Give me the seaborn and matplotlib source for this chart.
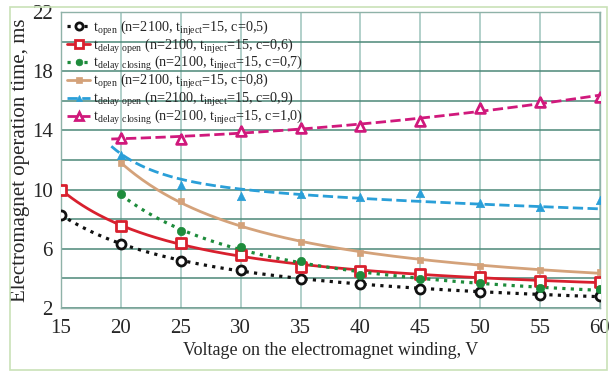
import numpy as np
import pandas as pd
import matplotlib
matplotlib.use("Agg")
import matplotlib.pyplot as plt
import seaborn as sns
from matplotlib.patches import Rectangle

# ---- data ----
voltage = [15, 20, 25, 30, 35, 40, 45, 50, 55, 60]
t_open_05 = [8.30, 6.35, 5.19, 4.57, 3.97, 3.61, 3.30, 3.11, 2.89, 2.80]
t_delay_open_06 = [10.0, 7.54, 6.40, 5.58, 4.79, 4.52, 4.28, 4.12, 3.83, 3.74]
voltage_b = [20, 25, 30, 35, 40, 45, 50, 55, 60]
t_delay_closing_07 = [9.67, 7.19, 6.13, 5.17, 4.23, 3.97, 3.68, 3.38, 3.27]
t_open_08 = [11.77, 9.22, 7.59, 6.47, 5.73, 5.24, 4.86, 4.57, 4.46]
t_delay_open_09 = [12.36, 10.34, 9.60, 9.72, 9.49, 9.79, 9.09, 8.82, 9.32]
t_delay_closing_10 = [13.52, 13.40, 13.97, 14.15, 14.30, 14.62, 15.53, 15.93, 16.25]
# trend line of the c=0,9 series as drawn in the reference
t_delay_open_09_trend = [12.40, 10.80, 9.90, 9.67, 9.45, 9.22, 9.05, 8.85, 8.66]

labels = [
    r"t$_\mathregular{open}$ (n=2100, t$_\mathregular{inject}$=15, c=0,5)",
    r"t$_\mathregular{delay\ open}$ (n=2100, t$_\mathregular{inject}$=15, c=0,6)",
    r"t$_\mathregular{delay\ closing}$ (n=2100, t$_\mathregular{inject}$=15, c=0,7)",
    r"t$_\mathregular{open}$ (n=2100, t$_\mathregular{inject}$=15, c=0,8)",
    r"t$_\mathregular{delay\ open}$ (n=2100, t$_\mathregular{inject}$=15, c=0,9)",
    r"t$_\mathregular{delay\ closing}$ (n=2100, t$_\mathregular{inject}$=15, c=1,0)",
]
xticks = [15, 20, 25, 30, 35, 40, 45, 50, 55, 60]
yticks = [2, 6, 10, 14, 18, 22]

series = [
    (voltage, t_open_05, None, "#111111", ":", "o", "white", 6.5, "inv"),
    (voltage, t_delay_open_06, None, "#d8202e", "-", "s", "white", 6.5, "inv"),
    (voltage_b, t_delay_closing_07, None, "#1e8c3c", ":", "o", None, 6, "inv"),
    (voltage_b, t_open_08, None, "#d4a27a", "-", "s", None, 5, "inv"),
    (voltage_b, t_delay_open_09, t_delay_open_09_trend, "#2a9fd8", "--", "^", None, 6, "inv3"),
    (voltage_b, t_delay_closing_10, None, "#d0197c", "--", "^", "white", 7, "poly"),
]

sns.set_theme(style="white")
plt.rcParams["font.family"] = ["Liberation Serif", "DejaVu Serif"]
plt.rcParams["mathtext.fontset"] = "custom"
plt.rcParams["mathtext.rm"] = "Liberation Serif"

fig = plt.figure(figsize=(6.09, 3.72), dpi=100)
fig.patches.append(Rectangle((10 / 609, 2 / 372), 597 / 609, 363 / 372,
                             transform=fig.transFigure, fill=False,
                             edgecolor="#c9e2b8", lw=1.2))
ax = fig.add_axes([61 / 609, 64 / 372, 539 / 609, 296 / 372])

for i, (vx, vy, trend, col, ls, mk, mfc, ms, kind) in enumerate(series):
    vx = np.asarray(vx, float)
    vy = np.asarray(vy, float)
    fy = np.asarray(trend, float) if trend is not None else vy
    start = vx[0] - (0.8 if ls == "--" else 0)
    xs = np.linspace(start, vx[-1], 200)
    if kind == "poly":
        c = np.polyfit(vx, fy, 2)
        ys = np.polyval(c, xs)
    elif kind == "inv3":
        c = np.polyfit(1 / vx, fy, 3)
        ys = np.polyval(c, 1 / xs)
    else:
        c = np.polyfit(1 / vx, fy, 2)
        ys = np.polyval(c, 1 / xs)
    lw = 2.3 if ls == ":" else 2.0
    sns.lineplot(x=xs, y=ys, ax=ax, color=col, linestyle=ls, lw=lw, zorder=3)
    sns.scatterplot(x=vx, y=vy, ax=ax, marker=mk, s=ms ** 2,
                    facecolor=(mfc if mfc else col), edgecolor=col,
                    linewidth=2.0 if mfc else 0.5, zorder=4)
    # legend proxy
    ax.plot([], [], color=col, linestyle=ls, lw=lw, marker=mk,
            markersize=ms * 0.8, markerfacecolor=(mfc if mfc else col),
            markeredgecolor=col, markeredgewidth=2.0 if mfc else 0.5,
            label=labels[i])

ax.set_xlim(15, 60)
ax.set_ylim(2, 22)
ax.set_xticks(xticks)
ax.set_yticks(yticks)
ax.set_yticks(np.arange(2, 23, 2), minor=True)
ax.yaxis.grid(True, which="both", color="#4b8878", lw=1.1)
ax.xaxis.grid(True, color="#9cc4bc", lw=1.1)
for s in ax.spines.values():
    s.set_color("#8fb2a8")
    s.set_linewidth(1.0)
ax.tick_params(axis="x", which="both", length=0, labelsize=15, pad=8)
ax.tick_params(axis="y", which="both", length=0, labelsize=15, pad=6)
ax.set_xlabel("Voltage on the electromagnet winding, V", fontsize=13, labelpad=3)
ax.set_ylabel("Electromagnet operation time, ms", fontsize=15, labelpad=1)

leg = ax.legend(loc="upper left", frameon=False, fontsize=10.2,
                handlelength=1.6, handletextpad=0.2, borderaxespad=0.1,
                labelspacing=-0.1, borderpad=0.35)

fig.savefig("out.png", dpi=100)
